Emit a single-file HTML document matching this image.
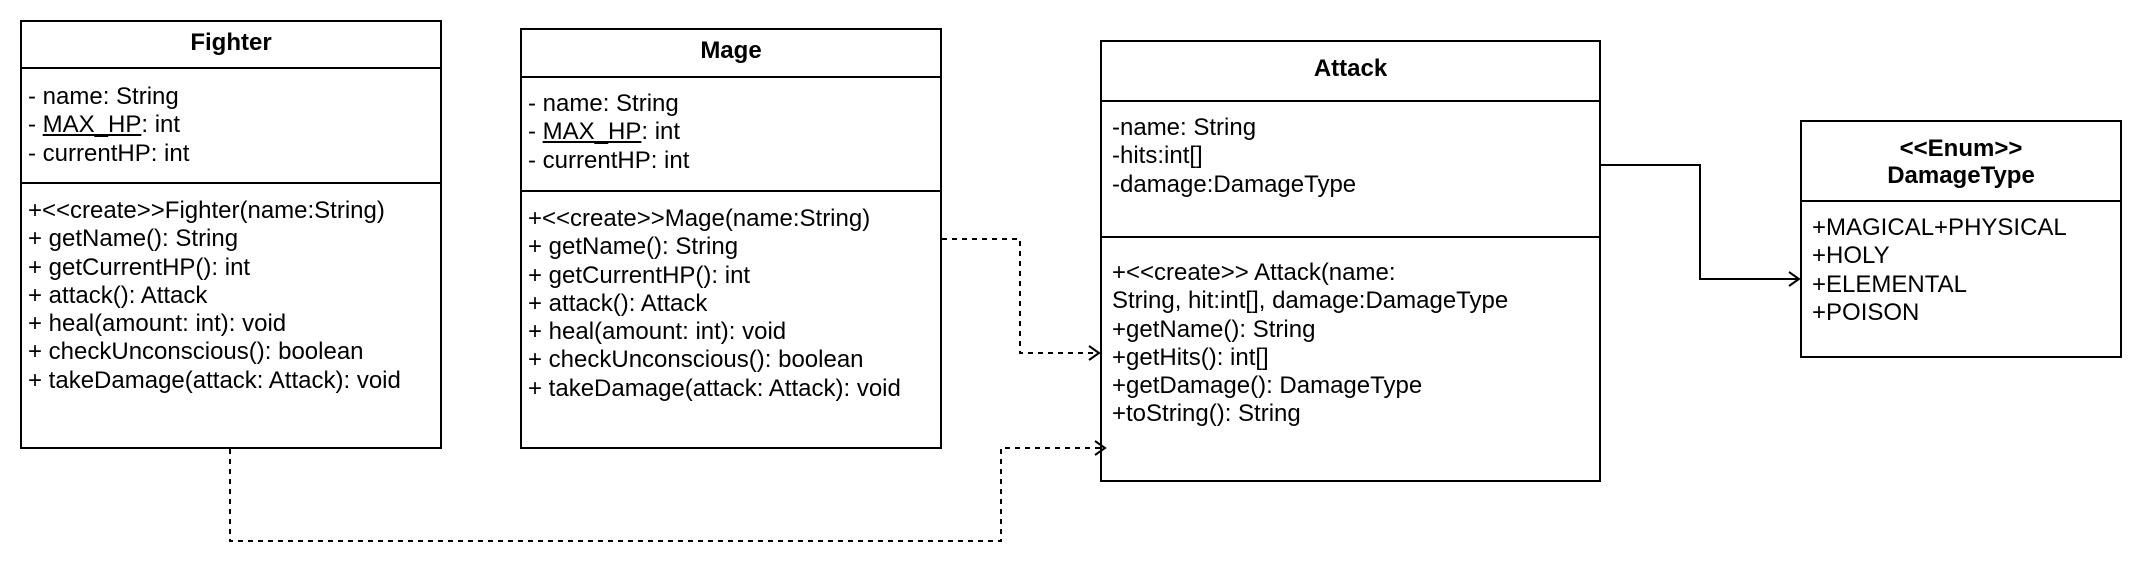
<!DOCTYPE html>
<html><head><meta charset="utf-8"><style>
body{margin:0;width:2142px;height:578px;background:#fff;position:relative;overflow:hidden;font-family:"Liberation Sans",Arial,sans-serif;font-size:24px;color:#000}
.b{position:absolute;border:2px solid #000;box-sizing:border-box}
.h{position:absolute;height:2px;background:#000}
.t{position:absolute;line-height:28.3px;white-space:pre}
.c{position:absolute;text-align:center;font-weight:bold;line-height:27px}
u{text-decoration:underline}
</style></head><body>
<!-- Fighter -->
<div class="b" style="left:20px;top:20px;width:422px;height:429px"></div>
<div class="h" style="left:20px;top:67px;width:422px"></div>
<div class="h" style="left:20px;top:182px;width:422px"></div>
<div class="c" style="left:20px;top:29px;width:422px">Fighter</div>
<div class="t" style="left:28px;top:83px">- name: String
- <u>MAX_HP</u>: int
- currentHP: int</div>
<div class="t" style="left:28px;top:197px">+&lt;&lt;create&gt;&gt;Fighter(name:String)
+ getName(): String
+ getCurrentHP(): int
+ attack(): Attack
+ heal(amount: int): void
+ checkUnconscious(): boolean
+ takeDamage(attack: Attack): void</div>
<!-- Mage -->
<div class="b" style="left:520px;top:28px;width:422px;height:421px"></div>
<div class="h" style="left:520px;top:76px;width:422px"></div>
<div class="h" style="left:520px;top:190px;width:422px"></div>
<div class="c" style="left:520px;top:37px;width:422px">Mage</div>
<div class="t" style="left:528px;top:90px">- name: String
- <u>MAX_HP</u>: int
- currentHP: int</div>
<div class="t" style="left:528px;top:205px">+&lt;&lt;create&gt;&gt;Mage(name:String)
+ getName(): String
+ getCurrentHP(): int
+ attack(): Attack
+ heal(amount: int): void
+ checkUnconscious(): boolean
+ takeDamage(attack: Attack): void</div>
<!-- Attack -->
<div class="b" style="left:1100px;top:40px;width:501px;height:442px"></div>
<div class="h" style="left:1100px;top:100px;width:501px"></div>
<div class="h" style="left:1100px;top:236px;width:501px"></div>
<div class="c" style="left:1100px;top:55px;width:501px">Attack</div>
<div class="t" style="left:1112px;top:114px">-name: String
-hits:int[]
-damage:DamageType</div>
<div class="t" style="left:1112px;top:259px">+&lt;&lt;create&gt;&gt; Attack(name:
String, hit:int[], damage:DamageType
+getName(): String
+getHits(): int[]
+getDamage(): DamageType
+toString(): String</div>
<!-- DamageType -->
<div class="b" style="left:1800px;top:120px;width:322px;height:238px"></div>
<div class="h" style="left:1800px;top:200px;width:322px"></div>
<div class="c" style="left:1800px;top:135px;width:322px">&lt;&lt;Enum&gt;&gt;<br>DamageType</div>
<div class="t" style="left:1812px;top:214px">+MAGICAL+PHYSICAL
+HOLY
+ELEMENTAL
+POISON</div>
<svg width="2142" height="578" style="position:absolute;left:0;top:0" fill="none" stroke="#000">
<path d="M942 239 H1020 V353 H1099" stroke-width="2" stroke-dasharray="5 5"/>
<path d="M1089 346 L1099 353 L1089 360" stroke-width="2"/>
<path d="M230 449 V541 H1001 V448 H1105" stroke-width="2" stroke-dasharray="5 5"/>
<path d="M1095 441 L1105 448 L1095 455" stroke-width="2"/>
<path d="M1601 165 H1700 V279 H1799" stroke-width="2"/>
<path d="M1789 272 L1799 279 L1789 286" stroke-width="2"/>
</svg>
</body></html>
